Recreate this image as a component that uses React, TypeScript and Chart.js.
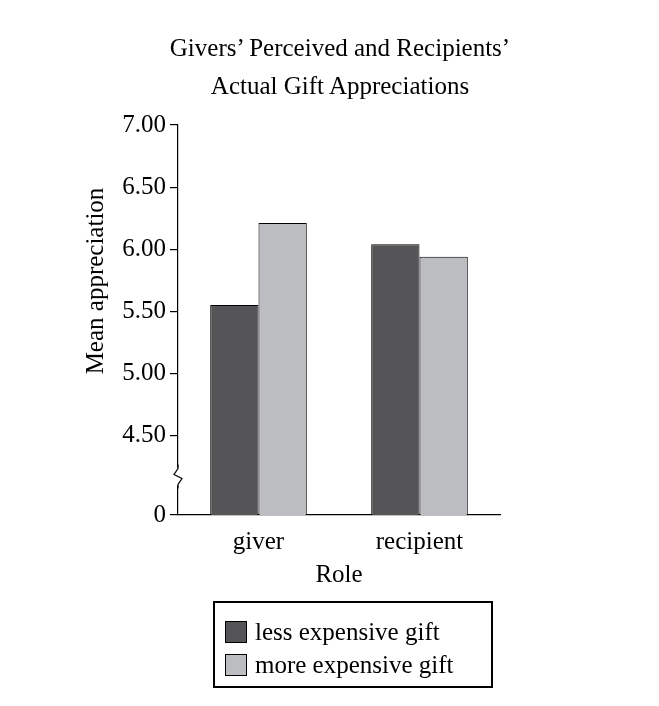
import { useEffect, useRef } from "react";
import Chart from "chart.js/auto";

const roles = ["giver", "recipient"];
const lessExpensive = [5.55, 6.04];
const moreExpensive = [6.21, 5.94];
const yTickValues = [3.86, 4.5, 5.0, 5.5, 6.0, 6.5, 7.0];
const yTickLabels = ["0", "4.50", "5.00", "5.50", "6.00", "6.50", "7.00"];

const FONT = "'Liberation Serif', 'DejaVu Serif', serif";

const breakPlugin = {
  id: "axisBreak",
  afterDraw(chart: any) {
    const ctx = chart.ctx;
    const y = chart.scales.y;
    const x0 = chart.chartArea.left;
    const yb = y.getPixelForValue(4.17);
    ctx.save();
    ctx.fillStyle = "#fff";
    ctx.fillRect(x0 - 3, yb - 9, 6, 18);
    ctx.strokeStyle = "#000";
    ctx.lineWidth = 1.2;
    ctx.beginPath();
    ctx.moveTo(x0, yb - 12);
    ctx.lineTo(x0, yb - 8);
    ctx.lineTo(x0 - 4, yb - 2);
    ctx.lineTo(x0 + 4, yb + 2);
    ctx.lineTo(x0, yb + 8);
    ctx.lineTo(x0, yb + 12);
    ctx.stroke();
    ctx.restore();
  },
};

export default function App() {
  const canvasRef = useRef<HTMLCanvasElement>(null);
  const chartRef = useRef<Chart | null>(null);

  useEffect(() => {
    if (!canvasRef.current) return;
    if (chartRef.current) chartRef.current.destroy();
    const ctx = canvasRef.current.getContext("2d");
    if (!ctx) return;

    chartRef.current = new Chart(ctx, {
      type: "bar",
      data: {
        labels: roles,
        datasets: [
          {
            label: "less expensive gift",
            data: lessExpensive,
            backgroundColor: "#555557",
            borderColor: "#000",
            borderWidth: 1,
          },
          {
            label: "more expensive gift",
            data: moreExpensive,
            backgroundColor: "#bcbdc0",
            borderColor: "#000",
            borderWidth: 1,
          },
        ],
      },
      options: {
        responsive: false,
        animation: false,
        layout: { padding: { top: 125, right: 159, left: 0, bottom: 0 } },
        plugins: {
          legend: { display: false },
          tooltip: { enabled: false },
        },
        datasets: { bar: { categoryPercentage: 0.6, barPercentage: 1 } },
        scales: {
          x: {
            afterFit: (s: any) => {
              s.height = 191;
            },
            grid: { display: false },
            border: { color: "#000", width: 1.2 },
            ticks: { color: "#000", font: { family: FONT, size: 25 }, padding: 4 },
          },
          y: {
            min: 3.86,
            max: 7,
            afterFit: (s: any) => {
              s.width = 178;
            },
            afterBuildTicks: (s: any) => {
              s.ticks = yTickValues.map((v) => ({ value: v }));
            },
            grid: {
              display: true,
              drawOnChartArea: false,
              tickLength: 8,
              color: "#000",
              lineWidth: 1.2,
            },
            border: { color: "#000", width: 1.2 },
            ticks: {
              color: "#000",
              font: { family: FONT, size: 25 },
              padding: 4,
              callback: (v: any) => {
                const i = yTickValues.indexOf(Number(v));
                return i >= 0 ? yTickLabels[i] : "";
              },
            },
          },
        },
      },
      plugins: [breakPlugin],
    });

    return () => {
      if (chartRef.current) chartRef.current.destroy();
    };
  }, []);

  const swatch = (c: string) => ({
    display: "inline-block",
    width: 20,
    height: 20,
    background: c,
    border: "1px solid #000",
    marginRight: 8,
    verticalAlign: "-3px",
  });

  return (
    <div style={{ position: "fixed", left: 0, top: 0, width: 659, height: 706, background: "#fff", fontFamily: FONT, color: "#000" }}>
      <canvas ref={canvasRef} width={659} height={706} style={{ position: "absolute", left: 0, top: 0 }} />
      <div style={{ position: "absolute", left: 0, width: 680, top: 29, textAlign: "center", fontSize: 25, lineHeight: "38px" }}>
        Givers’ Perceived and Recipients’
        <br />
        Actual Gift Appreciations
      </div>
      <div
        style={{
          position: "absolute",
          left: 95 - 150,
          top: 281 - 16,
          width: 300,
          height: 32,
          lineHeight: "32px",
          textAlign: "center",
          fontSize: 25,
          transform: "rotate(-90deg)",
        }}
      >
        Mean appreciation
      </div>
      <div style={{ position: "absolute", left: 178, width: 322, top: 558, textAlign: "center", fontSize: 25, lineHeight: "32px" }}>
        Role
      </div>
      <div
        style={{
          position: "absolute",
          left: 213,
          top: 601,
          width: 280,
          height: 87,
          border: "2px solid #000",
          fontSize: 25,
          lineHeight: "33px",
          paddingTop: 12,
          paddingLeft: 10,
          boxSizing: "border-box",
          whiteSpace: "nowrap",
        }}
      >
        <div><span style={swatch("#555557")} />less expensive gift</div>
        <div><span style={swatch("#bcbdc0")} />more expensive gift</div>
      </div>
    </div>
  );
}
